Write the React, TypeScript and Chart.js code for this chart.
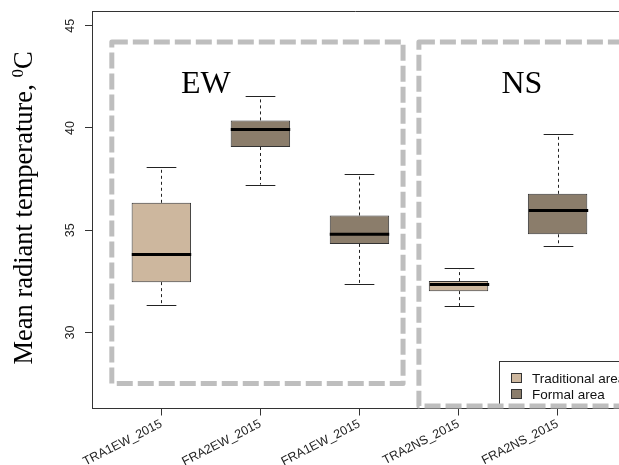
import React, { useEffect, useRef } from "react";
import { Chart, registerables } from "chart.js";

Chart.register(...registerables);

// ---- data ----
const categories = ["TRA1EW_2015", "FRA2EW_2015", "FRA1EW_2015", "TRA2NS_2015", "FRA2NS_2015"];
const groups = ["Traditional area", "Formal area", "Formal area", "Traditional area", "Formal area"];
const whiskerLow = [31.33, 37.23, 32.38, 31.29, 34.22];
const q1 = [32.46, 39.07, 34.33, 32.02, 34.8];
const median = [33.81, 39.93, 34.8, 32.34, 35.96];
const q3 = [36.34, 40.37, 35.72, 32.51, 36.78];
const whiskerHigh = [38.08, 41.54, 37.75, 33.13, 39.71];
const yTicks = [30, 35, 40, 45];
const legendLabels = ["Traditional area", "Formal area"];
const regionNames = ["EW", "NS"];
const regionX0 = [0.5, 3.6];
const regionX1 = [3.44, 5.9];
const regionY0 = [27.5, 26.4];
const regionY1 = [44.2, 44.2];
const regionLabelX = [1.45, 4.64];
const regionLabelY = [41.72, 41.72];

const groupColor: Record<string, string> = {
  "Traditional area": "#CDB79E",
  "Formal area": "#8B7D6B",
};

const SANS = '"Liberation Sans", Arial, sans-serif';
const SERIF = '"Liberation Serif", "Times New Roman", serif';

const extras = {
  id: "boxExtras",
  afterDatasetsDraw(chart: any) {
    const ctx = chart.ctx as CanvasRenderingContext2D;
    const xs = chart.scales.x;
    const ys = chart.scales.y;
    const area = chart.chartArea;
    const meta = chart.getDatasetMeta(0);
    ctx.save();

    // top frame line
    ctx.strokeStyle = "#333";
    ctx.lineWidth = 1;
    ctx.beginPath();
    ctx.moveTo(area.left, Math.round(area.top) + 0.5);
    ctx.lineTo(chart.width, Math.round(area.top) + 0.5);
    ctx.stroke();

    // whiskers, caps, medians
    categories.forEach((_, i) => {
      const cx = Math.round(xs.getPixelForValue(i + 1)) + 0.5;
      const w = meta.data[i].width;
      const yHi = ys.getPixelForValue(whiskerHigh[i]);
      const yLo = ys.getPixelForValue(whiskerLow[i]);
      const yQ3 = ys.getPixelForValue(q3[i]);
      const yQ1 = ys.getPixelForValue(q1[i]);
      const yMed = ys.getPixelForValue(median[i]);
      ctx.strokeStyle = "#222";
      ctx.lineWidth = 1;
      ctx.setLineDash([3, 3]);
      ctx.beginPath();
      ctx.moveTo(cx, yQ3);
      ctx.lineTo(cx, yHi);
      ctx.moveTo(cx, yQ1);
      ctx.lineTo(cx, yLo);
      ctx.stroke();
      ctx.setLineDash([]);
      ctx.beginPath();
      ctx.moveTo(cx - w / 4, Math.round(yHi) + 0.5);
      ctx.lineTo(cx + w / 4, Math.round(yHi) + 0.5);
      ctx.moveTo(cx - w / 4, Math.round(yLo) + 0.5);
      ctx.lineTo(cx + w / 4, Math.round(yLo) + 0.5);
      ctx.stroke();
      ctx.strokeStyle = "#000";
      ctx.lineWidth = 3;
      ctx.beginPath();
      ctx.moveTo(cx - w / 2, yMed);
      ctx.lineTo(cx + w / 2, yMed);
      ctx.stroke();
    });

    // y tick labels (rotated)
    ctx.fillStyle = "#222";
    ctx.font = `12.5px ${SANS}`;
    ys.ticks.forEach((t: any) => {
      const y = ys.getPixelForValue(t.value);
      ctx.save();
      ctx.translate(74, y);
      ctx.rotate(-Math.PI / 2);
      ctx.textAlign = "center";
      ctx.textBaseline = "alphabetic";
      ctx.fillText(String(t.value), 0, 0);
      ctx.restore();
    });

    // y axis title with superscript
    ctx.save();
    ctx.translate(32, 208);
    ctx.rotate(-Math.PI / 2);
    ctx.fillStyle = "#000";
    ctx.textBaseline = "alphabetic";
    ctx.textAlign = "left";
    const main = "Mean radiant temperature, ";
    const big = `26.5px ${SERIF}`;
    const small = `17px ${SERIF}`;
    ctx.font = big;
    const w1 = ctx.measureText(main).width;
    const w3 = ctx.measureText("C").width;
    ctx.font = small;
    const w2 = ctx.measureText("0").width;
    let x = -(w1 + w2 + w3) / 2;
    ctx.font = big;
    ctx.fillText(main, x, 0);
    x += w1;
    ctx.font = small;
    ctx.fillText("0", x, -9);
    x += w2;
    ctx.font = big;
    ctx.fillText("C", x, 0);
    ctx.restore();

    // legend (bottom right)
    const lx = 499.5;
    const ly = 361.5;
    ctx.fillStyle = "#fff";
    ctx.fillRect(lx, ly, chart.width - lx + 20, area.bottom - ly);
    ctx.strokeStyle = "#333";
    ctx.lineWidth = 1;
    ctx.strokeRect(lx, ly, chart.width - lx + 20, area.bottom - ly);
    legendLabels.forEach((lab, k) => {
      const yy = 378 + k * 16;
      ctx.fillStyle = groupColor[lab];
      ctx.fillRect(511.5, yy - 4.5, 10, 9);
      ctx.strokeStyle = "#333";
      ctx.strokeRect(511.5, yy - 4.5, 10, 9);
      ctx.fillStyle = "#111";
      ctx.font = `13.5px ${SANS}`;
      ctx.textAlign = "left";
      ctx.textBaseline = "middle";
      ctx.fillText(lab, 532, yy + 1);
    });

    // dashed regions
    ctx.strokeStyle = "#BEBEBE";
    ctx.lineWidth = 5;
    ctx.lineJoin = "round";
    ctx.setLineDash([16, 5]);
    regionNames.forEach((_, k) => {
      const x0 = xs.getPixelForValue(regionX0[k]);
      const x1 = xs.getPixelForValue(regionX1[k]);
      const y0 = ys.getPixelForValue(regionY1[k]);
      const y1 = ys.getPixelForValue(regionY0[k]);
      ctx.strokeRect(x0, y0, x1 - x0, y1 - y0);
    });
    ctx.setLineDash([]);

    // region labels
    ctx.fillStyle = "#000";
    ctx.font = `32px ${SERIF}`;
    ctx.textAlign = "center";
    ctx.textBaseline = "alphabetic";
    regionNames.forEach((name, k) => {
      ctx.fillText(name, xs.getPixelForValue(regionLabelX[k]), ys.getPixelForValue(regionLabelY[k]));
    });

    ctx.restore();
  },
};

export default function App() {
  const ref = useRef<HTMLCanvasElement | null>(null);
  useEffect(() => {
    if (!ref.current) return;
    const chart = new Chart(ref.current, {
      type: "bar",
      data: {
        datasets: [
          {
            label: "IQR",
            data: categories.map((_, i) => ({ x: i + 1, y: [q1[i], q3[i]] })) as any,
            backgroundColor: groups.map((g) => groupColor[g]),
            borderColor: "#333",
            borderWidth: 1,
            borderSkipped: false,
            barPercentage: 0.6,
            categoryPercentage: 1,
          },
        ],
      },
      plugins: [extras],
      options: {
        responsive: false,
        animation: false,
        devicePixelRatio: 1,
        layout: { padding: { top: 11, right: 0, bottom: 0, left: 0 } },
        plugins: { legend: { display: false }, tooltip: { enabled: false } },
        scales: {
          x: {
            type: "linear",
            min: 0.3,
            max: 5.62,
            offset: false,
            afterBuildTicks: (s: any) => {
              s.ticks = categories.map((_, i) => ({ value: i + 1 }));
            },
            afterFit: (s: any) => {
              s.height = 56.5;
            },
            grid: { drawOnChartArea: false, drawTicks: true, tickLength: 7, color: "#333", offset: false },
            border: { display: true, color: "#333" },
            ticks: {
              autoSkip: false,
              minRotation: 27,
              maxRotation: 27,
              padding: 1,
              color: "#222",
              font: { family: SANS, size: 12.5 },
              callback: (v: any) => categories[Math.round(Number(v)) - 1] ?? "",
            },
          },
          y: {
            type: "linear",
            min: 26.28,
            max: 45.72,
            afterBuildTicks: (s: any) => {
              s.ticks = yTicks.map((v) => ({ value: v }));
            },
            afterFit: (s: any) => {
              s.width = 92;
            },
            grid: { drawOnChartArea: false, drawTicks: true, tickLength: 7, color: "#333" },
            border: { display: true, color: "#333" },
            ticks: { display: false },
          },
        },
      } as any,
    });
    return () => chart.destroy();
  }, []);
  return (
    <div style={{ position: "fixed", left: 0, top: 0, width: 619, height: 465, background: "#fff" }}>
      <canvas ref={ref} width={619} height={465} style={{ display: "block" }} />
    </div>
  );
}
